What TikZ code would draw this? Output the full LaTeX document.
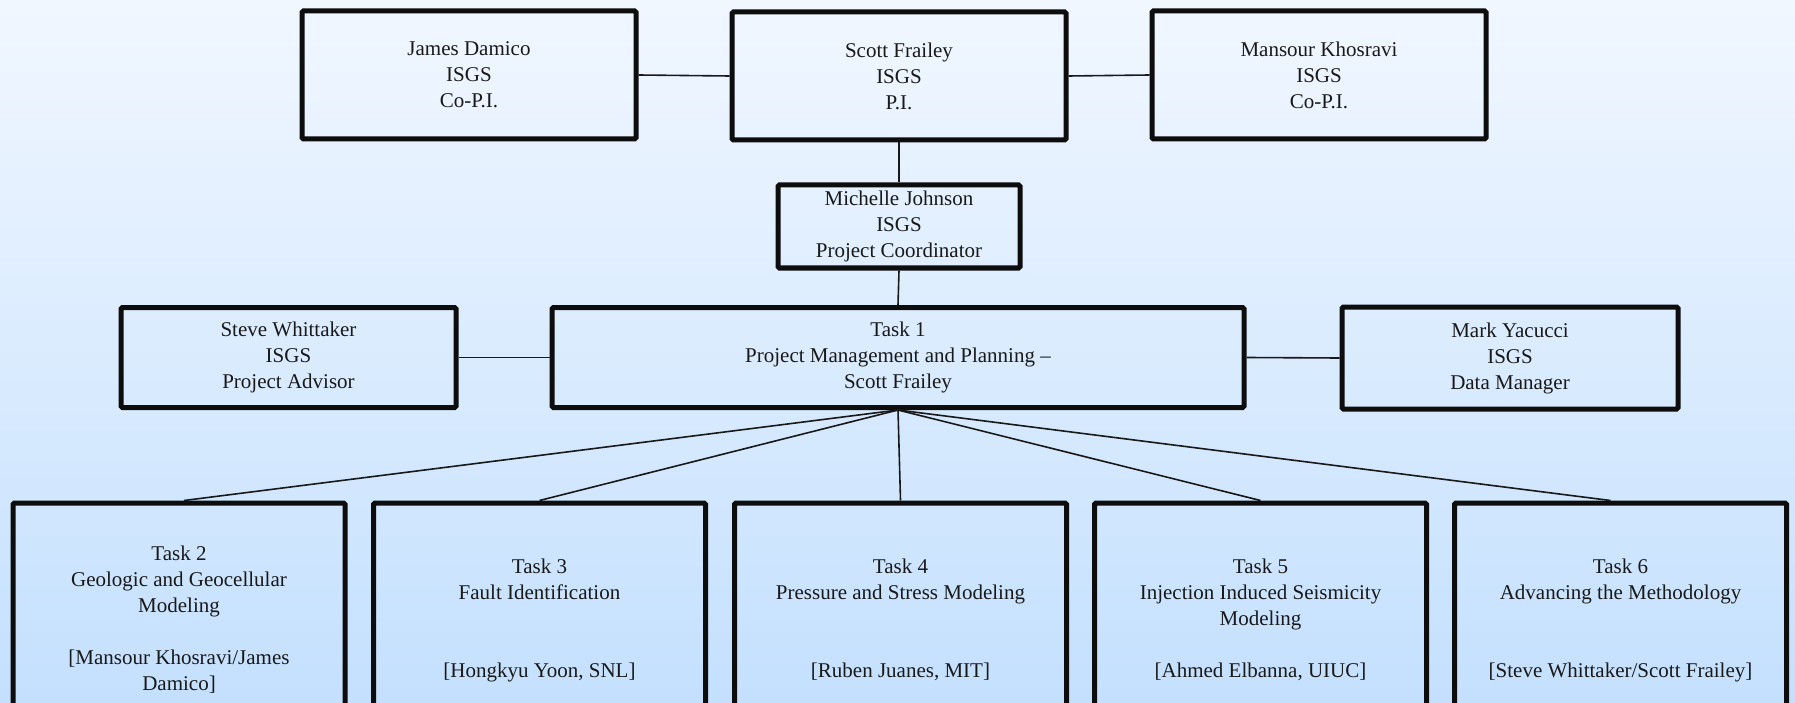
\documentclass[tikz,border=0pt]{standalone}
\usepackage{fontspec}
\setmainfont{Liberation Serif}
\usetikzlibrary{calc}
\begin{document}
\begin{tikzpicture}[x=1pt,y=-1pt,
  box/.style={draw=black!95, line width=5pt, rounded corners=1.5pt, align=center,
    font=\fontsize{21}{26}\selectfont, inner sep=0pt, text=black!90},
  topbox/.style={box, minimum width=334pt, minimum height=128pt},
  taskbox/.style={box, minimum width=332pt, minimum height=234pt},
  link/.style={draw=black!90, line width=1.6pt}]
\useasboundingbox (0,0) rectangle (1795,703);
\shade[top color={rgb,255:red,241;green,247;blue,255}, bottom color={rgb,255:red,196;green,224;blue,254}] (0,0) rectangle (1795,703);
\clip (0,0) rectangle (1795,703);

\node[topbox] (james) at (469,75) {James Damico\\ISGS\\Co-P.I.};
\node[topbox] (scott) at (899,76) {Scott Frailey\\ISGS\\P.I.};
\node[topbox] (mansour) at (1319,75) {Mansour Khosravi\\ISGS\\Co-P.I.};
\node[box, minimum width=242pt, minimum height=83pt] (michelle) at (899,226.5) {Michelle Johnson\\ISGS\\Project Coordinator};
\node[box, minimum width=335pt, minimum height=100pt] (steve) at (288.5,357.5) {Steve Whittaker\\ISGS\\Project Advisor};
\node[box, minimum width=692pt, minimum height=100pt] (task1) at (898,357.5) {Task 1\\Project Management and Planning --\\Scott Frailey};
\node[box, minimum width=336pt, minimum height=102pt] (mark) at (1510,358) {Mark Yacucci\\ISGS\\Data Manager};

\node[taskbox] (t2) at (179,620) {Task 2\\Geologic and Geocellular\\Modeling\\\mbox{}\\{}[Mansour Khosravi/James\\Damico]};
\node[taskbox] (t3) at (539.5,620) {Task 3\\Fault Identification\\\mbox{}\\\mbox{}\\{}[Hongkyu Yoon, SNL]};
\node[taskbox] (t4) at (900.5,620) {Task 4\\Pressure and Stress Modeling\\\mbox{}\\\mbox{}\\{}[Ruben Juanes, MIT]};
\node[taskbox] (t5) at (1260.5,620) {Task 5\\Injection Induced Seismicity\\Modeling\\\mbox{}\\{}[Ahmed Elbanna, UIUC]};
\node[taskbox] (t6) at (1620.5,620) {Task 6\\Advancing the Methodology\\\mbox{}\\\mbox{}\\{}[Steve Whittaker/Scott Frailey]};

\draw[link] (james.east) -- (scott.west);
\draw[link] (scott.east) -- (mansour.west);
\draw[link] (scott.south) -- (michelle.north);
\draw[link] (michelle.south) -- (task1.north);
\draw[link] (steve.east) -- (task1.west);
\draw[link] (task1.east) -- (mark.west);
\draw[link] (task1.south) -- ($(t2.north)+(5,0)$);
\draw[link] (task1.south) -- (t3.north);
\draw[link] (task1.south) -- (t4.north);
\draw[link] (task1.south) -- (t5.north);
\draw[link] (task1.south) -- ($(t6.north)+(-10,0)$);
\end{tikzpicture}
\end{document}
